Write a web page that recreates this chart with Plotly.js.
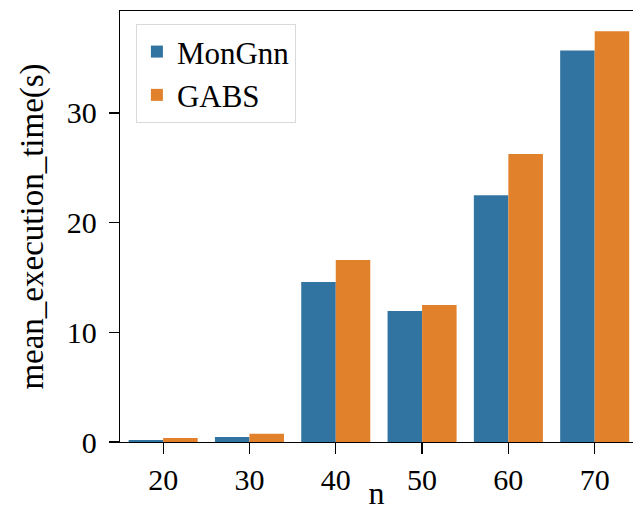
<!DOCTYPE html>
<html>
<head>
<meta charset="utf-8">
<script src="https://cdn.plot.ly/plotly-3.0.1.min.js"></script>
<style>html,body{margin:0;padding:0;background:#fff;}</style>
</head>
<body>
<div id="chart" style="width:633px;height:511px;"></div>
<script>
const categories = ["20", "30", "40", "50", "60", "70"];
const monGnn = [0.18, 0.45, 14.6, 11.95, 22.5, 35.7];
const gabs = [0.36, 0.75, 16.6, 12.5, 26.25, 37.45];
const seriesNames = ["MonGnn", "GABS"];

const FONT = "Liberation Serif, Times New Roman, serif";

const data = [
  {type: "bar", x: categories, y: monGnn, name: seriesNames[0],
   marker: {color: "#3274A1", line: {width: 0}}},
  {type: "bar", x: categories, y: gabs, name: seriesNames[1],
   marker: {color: "#E1812C", line: {width: 0}}}
];

const layout = {
  width: 633, height: 511,
  margin: {l: 120, r: 0, t: 11, b: 69, pad: 0},
  paper_bgcolor: "#fff", plot_bgcolor: "#fff",
  font: {family: FONT, size: 30, color: "#000"},
  barmode: "group", bargap: 0.2, bargroupgap: 0,
  showlegend: true,
  legend: {x: 0.031, y: 0.97, xanchor: "left", yanchor: "top",
    bgcolor: "#fff", bordercolor: "#d9d9d9", borderwidth: 1,
    font: {family: FONT, size: 31}, tracegroupgap: 0, itemwidth: 30},
  xaxis: {
    type: "category", range: [-0.5, 5.444], fixedrange: true,
    showgrid: false, zeroline: false,
    showline: true, linecolor: "#000", linewidth: 1.25, mirror: true,
    ticks: "outside", ticklen: 11, tickwidth: 1.25, tickcolor: "#000",
    tickfont: {family: FONT, size: 30},
    title: {text: "n", font: {family: FONT, size: 32}, standoff: 2},
    automargin: false
  },
  yaxis: {
    range: [0, 39.3], fixedrange: true,
    tickvals: [0, 10, 20, 30], ticktext: ["0", "10", "20", "30"],
    showgrid: false, zeroline: false,
    showline: true, linecolor: "#000", linewidth: 1.25, mirror: true,
    ticks: "outside", ticklen: 10, tickwidth: 1.25, tickcolor: "#000",
    tickfont: {family: FONT, size: 30},
    ticklabelstandoff: 6,
    title: {text: "mean_execution_time(s)", font: {family: FONT, size: 33}, standoff: 13},
    automargin: false
  }
};

Plotly.newPlot("chart", data, layout, {displayModeBar: false, staticPlot: true});
</script>
</body>
</html>
